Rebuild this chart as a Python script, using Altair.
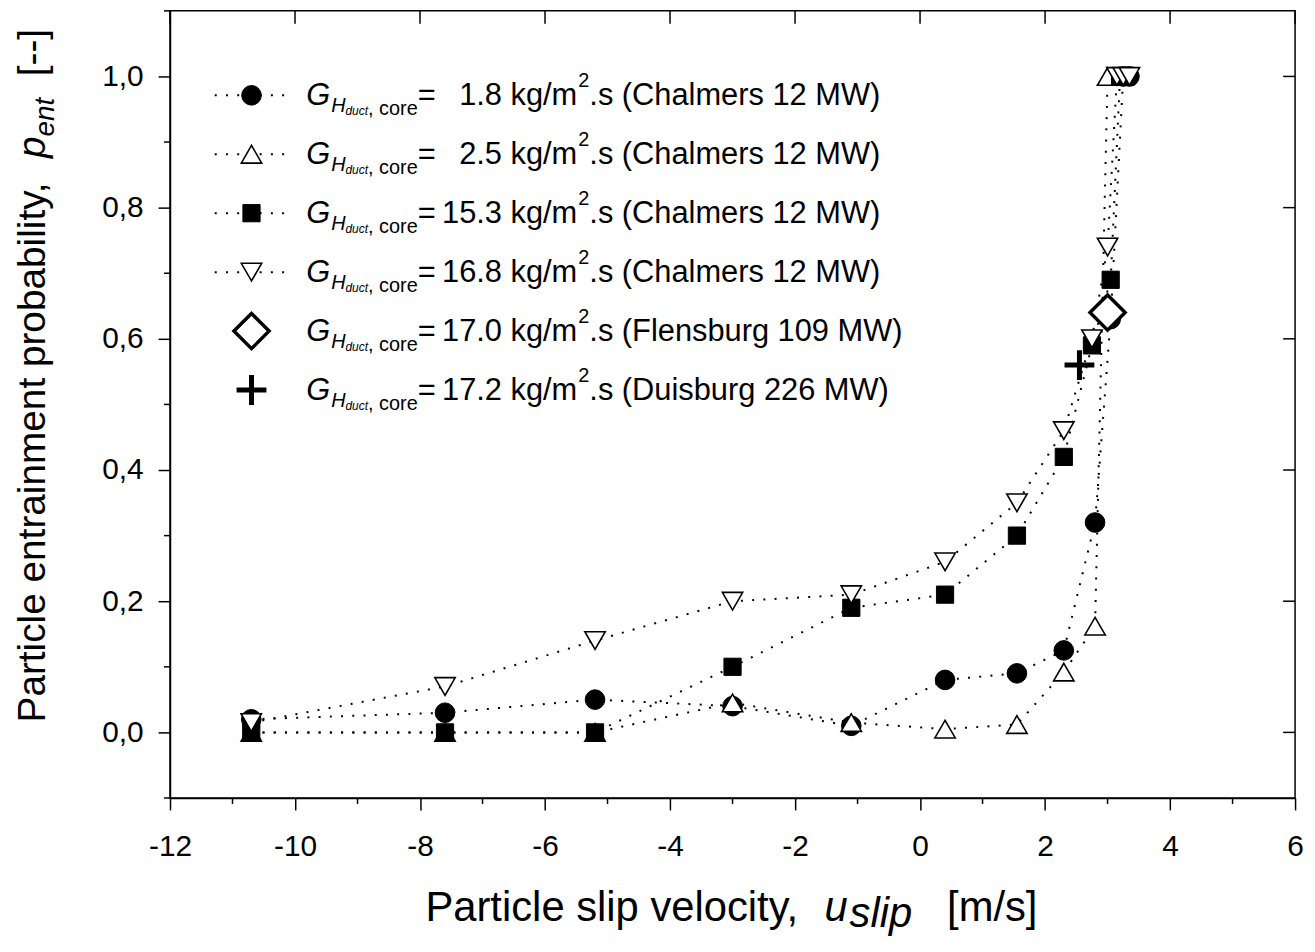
import altair as alt
import pandas as pd

# ---------------- data ----------------
s1_x = [-10.7, -7.6, -5.2, -3.0, -1.1, 0.4, 1.55, 2.3, 2.8, 3.05, 3.25, 3.35]
s1_y = [0.02, 0.03, 0.05, 0.04, 0.01, 0.08, 0.09, 0.125, 0.32, 0.63, 1.0, 1.0]
s2_x = [-10.7, -7.6, -5.2, -3.0, -1.1, 0.4, 1.55, 2.3, 2.8, 3.0]
s2_y = [0.0, 0.0, 0.0, 0.045, 0.015, 0.005, 0.012, 0.092, 0.162, 1.0]
s3_x = [-10.7, -7.6, -5.2, -3.0, -1.1, 0.4, 1.55, 2.3, 2.75, 3.05, 3.2, 3.3]
s3_y = [0.0, 0.0, 0.0, 0.10, 0.19, 0.21, 0.30, 0.42, 0.59, 0.69, 1.0, 1.0]
s4_x = [-10.7, -7.6, -5.2, -3.0, -1.1, 0.4, 1.55, 2.3, 2.75, 3.0, 3.15, 3.25, 3.35]
s4_y = [0.015, 0.07, 0.14, 0.20, 0.21, 0.26, 0.35, 0.46, 0.60, 0.74, 1.0, 1.0, 1.0]
flens_x = [3.0]
flens_y = [0.64]
duis_x = [2.55]
duis_y = [0.56]

legend_values = ["1.8", "2.5", "15.3", "16.8", "17.0", "17.2"]
legend_sources = ["Chalmers 12 MW", "Chalmers 12 MW", "Chalmers 12 MW",
                  "Chalmers 12 MW", "Flensburg 109 MW", "Duisburg 226 MW"]

x_major = [-12, -10, -8, -6, -4, -2, 0, 2, 4, 6]
x_minor = [-11, -9, -7, -5, -3, -1, 1, 3, 5]
y_major = [0.0, 0.2, 0.4, 0.6, 0.8, 1.0]
y_minor = [-0.1, 0.1, 0.3, 0.5, 0.7, 0.9, 1.1]
x_domain = [-12, 6]
y_domain = [-0.1, 1.1]

# ---------------- layout ----------------
W, H = 1132, 792
FONT = "Liberation Sans"
DOT = [2, 9.3]

AW = {' ': 278, ',': 278, '.': 278, '-': 333, '=': 584, '/': 278, '(': 333, ')': 333,
      '[': 278, ']': 278, 'a': 556, 'b': 556, 'c': 500, 'd': 556, 'e': 556, 'g': 556,
      'h': 556, 'i': 222, 'k': 500, 'l': 222, 'm': 833, 'n': 556, 'o': 556, 'p': 556,
      'r': 333, 's': 500, 't': 278, 'u': 556, 'v': 500, 'y': 500, 'C': 722, 'D': 722,
      'F': 611, 'G': 778, 'H': 722, 'M': 833, 'P': 667, 'W': 944}


def tw(s, fs):
    return sum(AW.get(c, 556) for c in s) / 1000.0 * fs


xs = alt.Scale(domain=x_domain, nice=False, zero=False)
ys = alt.Scale(domain=y_domain, nice=False, zero=False)
x_axis = alt.Axis(values=x_major, title=None, grid=False, tickSize=12, tickWidth=1.5,
                  tickColor="black", domainColor="black", domainWidth=1.5,
                  labelFont=FONT, labelFontSize=30, labelColor="black", labelPadding=22,
                  labelOverlap=False, labelBound=False, labelFlush=False,
                  labelExpr="'' + datum.value")
y_axis = alt.Axis(values=y_major, title=None, grid=False, tickSize=12, tickWidth=1.5,
                  tickColor="black", domainColor="black", domainWidth=1.5,
                  labelFont=FONT, labelFontSize=30, labelColor="black", labelPadding=15,
                  labelOverlap=False, labelBound=False, labelFlush=False,
                  labelExpr="replace(format(datum.value, '.1f'), '.', ',')")


def XE(f="u"):
    return alt.X(f"{f}:Q", scale=xs, axis=x_axis)


def YE(f="p"):
    return alt.Y(f"{f}:Q", scale=ys, axis=y_axis)


def series_df(xv, yv, name):
    return pd.DataFrame({"u": xv, "p": yv, "series": name})


d1 = series_df(s1_x, s1_y, "s1")
d2 = series_df(s2_x, s2_y, "s2")
d3 = series_df(s3_x, s3_y, "s3")
d4 = series_df(s4_x, s4_y, "s4")
d5 = series_df(flens_x, flens_y, "flens")
d6 = series_df(duis_x, duis_y, "duis")

lines = alt.Chart(pd.concat([d1, d2, d3, d4])).mark_line(
    strokeDash=DOT, strokeWidth=2, color="black"
).encode(x=XE(), y=YE(), detail="series:N")

STY = {
    "circle": dict(shape="circle", filled=True, fill="black", stroke="black", strokeWidth=1, size=390, opacity=1),
    "tri_up": dict(shape="triangle-up", filled=True, fill="white", stroke="black", strokeWidth=1.6, size=420, opacity=1),
    "square": dict(shape="square", filled=True, fill="black", stroke="black", strokeWidth=1, size=300, opacity=1),
    "tri_down": dict(shape="triangle-down", filled=True, fill="white", stroke="black", strokeWidth=1.6, size=420, opacity=1),
    "diamond": dict(shape="diamond", filled=True, fill="white", stroke="black", strokeWidth=3.5, size=1250, opacity=1),
    "plus": dict(shape="M-1,0L1,0M0,-1L0,1", filled=False, stroke="black", strokeWidth=5, size=900, opacity=1),
}

marks = [
    alt.Chart(d1).mark_point(**STY["circle"]).encode(x=XE(), y=YE()),
    alt.Chart(d2).mark_point(**STY["tri_up"]).encode(x=XE(), y=YE()),
    alt.Chart(d3).mark_point(**STY["square"]).encode(x=XE(), y=YE()),
    alt.Chart(d4).mark_point(**STY["tri_down"]).encode(x=XE(), y=YE()),
    alt.Chart(d5).mark_point(**STY["diamond"]).encode(x=XE(), y=YE()),
    alt.Chart(d6).mark_point(**STY["plus"]).encode(x=XE(), y=YE()),
]

# minor / mirrored ticks through the scales
xminor = alt.Chart(pd.DataFrame({"u": x_minor})).mark_rule(color="black", strokeWidth=1.5).encode(
    x=XE(), y=alt.value(H), y2=alt.value(H + 6))
yminor = alt.Chart(pd.DataFrame({"p": y_minor})).mark_rule(color="black", strokeWidth=1.5).encode(
    y=YE(), x=alt.value(0), x2=alt.value(-6))
xtop = alt.Chart(pd.DataFrame({"u": x_major})).mark_rule(color="black", strokeWidth=1.5).encode(
    x=XE(), y=alt.value(0), y2=alt.value(13))
yright = alt.Chart(pd.DataFrame({"p": y_major})).mark_rule(color="black", strokeWidth=1.5).encode(
    y=YE(), x=alt.value(W - 12), x2=alt.value(W))

# ---------------- legend (manual, rich text) ----------------
one = pd.DataFrame({"k": [0]})
LEG_X0, LEG_X1, LEG_SYM = 45, 115, 82
ROW0, ROWD = 85, 59.3
FS_L, FS_S1, FS_S2 = 31, 20, 12
TXT_X = 137
NUM_R = 334
sym_keys = ["circle", "tri_up", "square", "tri_down", "diamond", "plus"]

legend_layers = []
pieces = []  # (style, x, y, text)
for i, (val, src) in enumerate(zip(legend_values, legend_sources)):
    ry = ROW0 + ROWD * i
    if i < 4:
        legend_layers.append(alt.Chart(one).mark_rule(strokeDash=DOT, strokeWidth=2, color="black").encode(
            x=alt.value(LEG_X0), x2=alt.value(LEG_X1), y=alt.value(ry)))
    legend_layers.append(alt.Chart(one).mark_point(**STY[sym_keys[i]]).encode(
        x=alt.value(LEG_SYM), y=alt.value(ry)))
    base = ry + 10
    xg = TXT_X
    pieces.append(("i_L", xg, base, "G"))
    xh = xg + tw("G", FS_L) + 1
    pieces.append(("i_S1", xh, base + 7, "H"))
    xd = xh + tw("H", FS_S1)
    pieces.append(("i_S2", xd, base + 10, "duct"))
    xc = xd + tw("duct", FS_S2)
    pieces.append(("n_S1", xc, base + 10, ", core"))
    xe = xc + tw(", core", FS_S1)
    pieces.append(("n_L", xe, base, "="))
    pieces.append(("n_Lr", NUM_R, base, val))
    xk = NUM_R + tw(" ", FS_L)
    pieces.append(("n_L", xk, base, "kg/m"))
    xs2 = xk + tw("kg/m", FS_L) + 1
    pieces.append(("n_S1", xs2, base - 18, "2"))
    pieces.append(("n_L", xs2 + tw("2", FS_S1), base, f".s ({src})"))

# x axis title
FS_XT, FS_XS = 42, 42
xt_x, xt_b = 257, 916
pieces.append(("n_XT", xt_x, xt_b, "Particle slip velocity,"))
xu = xt_x + tw("Particle slip velocity,  ", FS_XT)
pieces.append(("i_XT", xu, xt_b, "u"))
xsl = xu + tw("u", FS_XT) + 2
pieces.append(("i_XS", xsl, xt_b + 6, "slip"))
xb = xsl + tw("slip", FS_XS) + tw("   ", FS_XT)
pieces.append(("n_XT", xb, xt_b, "[m/s]"))

# y axis title (rotated, reads upward)
FS_YT, FS_YS = 39, 28
yt_x, yt_y = -126, 716
pieces.append(("r_n_YT", yt_x, yt_y, "Particle entrainment probability,"))
yp = yt_y - tw("Particle entrainment probability,  ", FS_YT)
pieces.append(("r_i_YT", yt_x, yp, "p"))
ye = yp - tw("p", FS_YT)
pieces.append(("r_i_YS", yt_x + 9, ye, "ent"))
yb = ye - tw("ent", FS_YS) - tw("  ", FS_YT)
pieces.append(("r_n_YT", yt_x, yb, "[--]"))

STYLE_DEF = {
    "i_L": dict(fontSize=FS_L, fontStyle="italic", align="left"),
    "n_L": dict(fontSize=FS_L, align="left"),
    "n_Lr": dict(fontSize=FS_L, align="right"),
    "i_S1": dict(fontSize=FS_S1, fontStyle="italic", align="left"),
    "n_S1": dict(fontSize=FS_S1, align="left"),
    "i_S2": dict(fontSize=FS_S2, fontStyle="italic", align="left"),
    "n_XT": dict(fontSize=FS_XT, align="left"),
    "i_XT": dict(fontSize=FS_XT, fontStyle="italic", align="left"),
    "i_XS": dict(fontSize=FS_XS, fontStyle="italic", align="left"),
    "r_n_YT": dict(fontSize=FS_YT, align="left", angle=270),
    "r_i_YT": dict(fontSize=FS_YT, fontStyle="italic", align="left", angle=270),
    "r_i_YS": dict(fontSize=FS_YS, fontStyle="italic", align="left", angle=270),
}

pdf = pd.DataFrame(pieces, columns=["style", "px", "py", "txt"])
text_layers = []
for sname, sdef in STYLE_DEF.items():
    sub = pdf[pdf["style"] == sname]
    if len(sub) == 0:
        continue
    text_layers.append(
        alt.Chart(sub).mark_text(font=FONT, color="black", baseline="alphabetic", **sdef).encode(
            x=alt.X("px:Q", scale=None, axis=None),
            y=alt.Y("py:Q", scale=None, axis=None),
            text="txt:N",
        )
    )

chart = alt.layer(
    lines, *marks, xminor, yminor, xtop, yright, *legend_layers, *text_layers
).properties(
    width=W, height=H,
    autosize=alt.AutoSizeParams(type="none"),
    padding={"left": 163, "top": 0, "right": 12, "bottom": 138},
    background="white",
).configure_view(stroke="black", strokeWidth=1.5)

chart.save("out.html", embed_options={"renderer": "svg", "actions": False})
